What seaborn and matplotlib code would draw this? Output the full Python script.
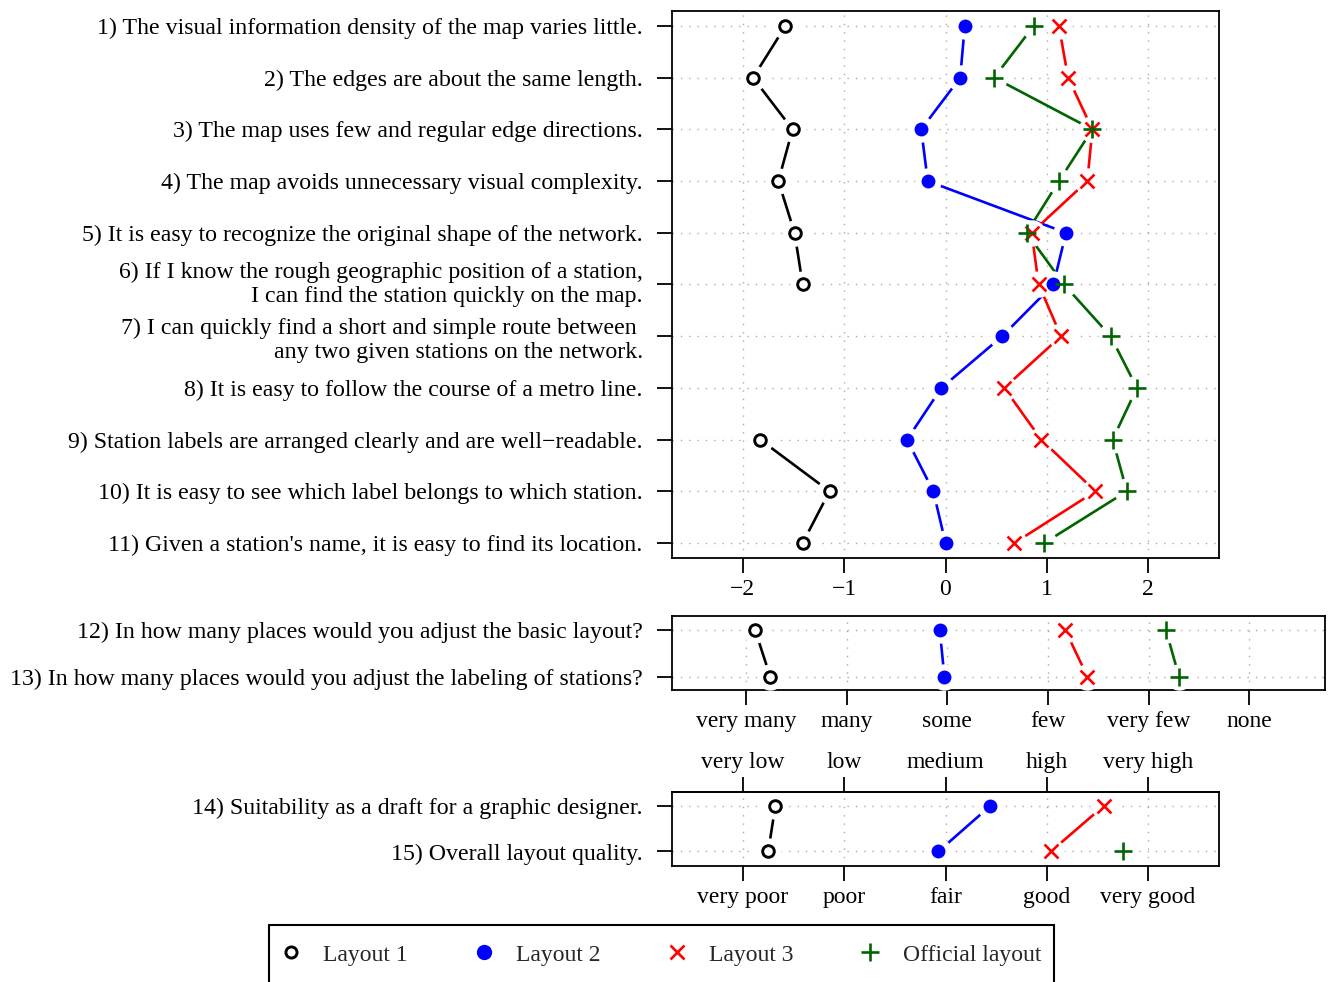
import numpy as np
import pandas as pd
import seaborn as sns
from matplotlib import pyplot as plt
from matplotlib.lines import Line2D
from matplotlib.patches import Rectangle
from matplotlib.transforms import ScaledTranslation

nan = np.nan

layouts = ["Layout 1", "Layout 2", "Layout 3", "Official layout"]

top_questions = [
    "1) The visual information density of the map varies little.",
    "2) The edges are about the same length.",
    "3) The map uses few and regular edge directions.",
    "4) The map avoids unnecessary visual complexity.",
    "5) It is easy to recognize the original shape of the network.",
    "6) If I know the rough geographic position of a station,\nI can find the station quickly on the map.",
    "7) I can quickly find a short and simple route between \nany two given stations on the network.",
    "8) It is easy to follow the course of a metro line.",
    "9) Station labels are arranged clearly and are well\u2212readable.",
    "10) It is easy to see which label belongs to which station.",
    "11) Given a station's name, it is easy to find its location.",
]
top_l1 = [-1.58, -1.90, -1.51, -1.65, -1.49, -1.41, nan, nan, -1.83, -1.145, -1.41]
top_l2 = [0.19, 0.145, -0.24, -0.175, 1.19, 1.065, 0.56, -0.04, -0.38, -0.12, 0.0]
top_l3 = [1.12, 1.21, 1.45, 1.40, 0.85, 0.92, 1.14, 0.58, 0.945, 1.48, 0.68]
top_off = [0.87, 0.48, 1.45, 1.12, 0.80, 1.17, 1.63, 1.89, 1.65, 1.79, 0.975]
top_ticks = [-2, -1, 0, 1, 2]
top_ticklabels = ["\u22122", "\u22121", "0", "1", "2"]

mid_questions = [
    "12) In how many places would you adjust the basic layout?",
    "13) In how many places would you adjust the labeling of stations?",
]
mid_l1 = [-1.91, -1.76]
mid_l2 = [-0.076, -0.03]
mid_l3 = [1.17, 1.39]
mid_off = [2.17, 2.30]
mid_ticks = [-2, -1, 0, 1, 2, 3]
mid_ticklabels = ["very many", "many", "some", "few", "very few", "none"]

bot_questions = [
    "14) Suitability as a draft for a graphic designer.",
    "15) Overall layout quality.",
]
bot_l1 = [-1.68, -1.75]
bot_l2 = [0.44, -0.07]
bot_l3 = [1.56, 1.04]
bot_off = [nan, 1.75]
bot_ticks = [-2, -1, 0, 1, 2]
bot_ticklabels = ["very poor", "poor", "fair", "good", "very good"]
bot_top_ticklabels = ["very low", "low", "medium", "high", "very high"]

colors = {"Layout 1": "black", "Layout 2": "#0000ff", "Layout 3": "#ff0000", "Official layout": "#006400"}

sns.set_style("ticks")
plt.rcParams["font.family"] = ["Liberation Serif", "DejaVu Serif"]
plt.rcParams["axes.edgecolor"] = "black"
plt.rcParams["axes.linewidth"] = 1.3
plt.rcParams["xtick.color"] = "black"
plt.rcParams["ytick.color"] = "black"

FS = 17
FS_Q = 17.2


def draw_panel(ax, questions, series, xlim, ylim, ticks, ticklabels):
    rows = np.arange(len(questions))
    frames = []
    for name, vals in zip(layouts, series):
        vals = np.asarray(vals, dtype=float)
        frames.append(pd.DataFrame({
            "row": rows,
            "value": vals,
            "layout": name,
            "seg": np.cumsum(np.isnan(vals)),
        }))
    df = pd.concat(frames, ignore_index=True).dropna()

    # lines, then white gaps round the points, then the points
    for name in layouts:
        sub = df[df["layout"] == name]
        sns.lineplot(data=sub, x="value", y="row", units="seg", estimator=None,
                     orient="y", color=colors[name], lw=1.9, zorder=2, ax=ax)
    for name in layouts:
        sub = df[df["layout"] == name]
        sns.scatterplot(data=sub, x="value", y="row", color="white", edgecolor="white",
                        s=360, linewidth=0, zorder=3, legend=False, ax=ax)
    for name in layouts:
        sub = df[df["layout"] == name]
        if name == "Layout 1":
            sns.scatterplot(data=sub, x="value", y="row", marker="o", color="white",
                            edgecolor="black", s=70, linewidth=2.1, zorder=4, legend=False, ax=ax)
        elif name == "Layout 2":
            sns.scatterplot(data=sub, x="value", y="row", marker="o", color=colors[name],
                            edgecolor=colors[name], s=100, linewidth=0, zorder=4, legend=False, ax=ax)
        elif name == "Layout 3":
            sns.scatterplot(data=sub, x="value", y="row", marker="x", color=colors[name],
                            s=100, linewidth=1.9, zorder=4, legend=False, ax=ax)
        else:
            sns.scatterplot(data=sub, x="value", y="row", marker="+", color=colors[name],
                            s=160, linewidth=1.9, zorder=4, legend=False, ax=ax)

    ax.set_xlim(*xlim)
    ax.set_ylim(*ylim)
    ax.set_xticks(ticks, ticklabels, fontsize=FS)
    ax.set_yticks(rows, questions, fontsize=FS_Q)
    ax.set_xlabel("")
    ax.set_ylabel("")
    ax.grid(True, linestyle=(0, (1, 5)), color="#aaaaaa", lw=1.0, zorder=0)
    ax.tick_params(axis="y", length=11, width=1.3, pad=10)
    ax.tick_params(axis="x", length=11, width=1.3, pad=4)
    for sp in ax.spines.values():
        sp.set_linewidth(1.3)


W, H = 1328, 982
fig = plt.figure(figsize=(W / 100, H / 100), dpi=100)

ax_top = fig.add_axes([672 / W, 1 - 558 / H, 547 / W, 547 / H])
draw_panel(ax_top, top_questions, [top_l1, top_l2, top_l3, top_off],
           (-2.7, 2.7), (10.29, -0.29), top_ticks, top_ticklabels)
# the two-line label of question 6 sits a little higher in the original
lab6 = ax_top.get_yticklabels()[5]
lab6.set_transform(lab6.get_transform() + ScaledTranslation(0, 0.04, fig.dpi_scale_trans))

ax_mid = fig.add_axes([672 / W, 1 - 690 / H, 653 / W, 74 / H])
draw_panel(ax_mid, mid_questions, [mid_l1, mid_l2, mid_l3, mid_off],
           (-2.735, 3.75), (1.29, -0.30), mid_ticks, mid_ticklabels)

ax_bot = fig.add_axes([672 / W, 1 - 866 / H, 547 / W, 74 / H])
draw_panel(ax_bot, bot_questions, [bot_l1, bot_l2, bot_l3, bot_off],
           (-2.7, 2.7), (1.32, -0.31), bot_ticks, bot_ticklabels)
sec = ax_bot.secondary_xaxis("top")
sec.set_xticks(bot_ticks, bot_top_ticklabels, fontsize=FS)
sec.tick_params(length=11, width=1.3, pad=2.8)

handles = [
    Line2D([], [], ls="none", marker="o", markerfacecolor="white", markeredgecolor="black",
           markersize=8, markeredgewidth=2.1),
    Line2D([], [], ls="none", marker="o", color=colors["Layout 2"], markersize=10),
    Line2D([], [], ls="none", marker="x", color=colors["Layout 3"], markersize=10, markeredgewidth=1.9),
    Line2D([], [], ls="none", marker="+", color=colors["Official layout"], markersize=12.5, markeredgewidth=1.9),
]
leg = fig.legend(handles, layouts, loc="center left", bbox_to_anchor=(269 / W, 1 - 955 / H),
                 ncol=4, fontsize=FS, frameon=False, borderpad=0.5, handlelength=0.85,
                 handletextpad=0.94, columnspacing=2.81, borderaxespad=0)
# legend box runs past the bottom edge of the figure, as in the original
fig.patches.append(Rectangle((269 / W, 1 - 992 / H), 785 / W, 67 / H, transform=fig.transFigure,
                             fill=False, edgecolor="black", lw=1.5, clip_on=False))

fig.savefig("out.png", dpi=100)
